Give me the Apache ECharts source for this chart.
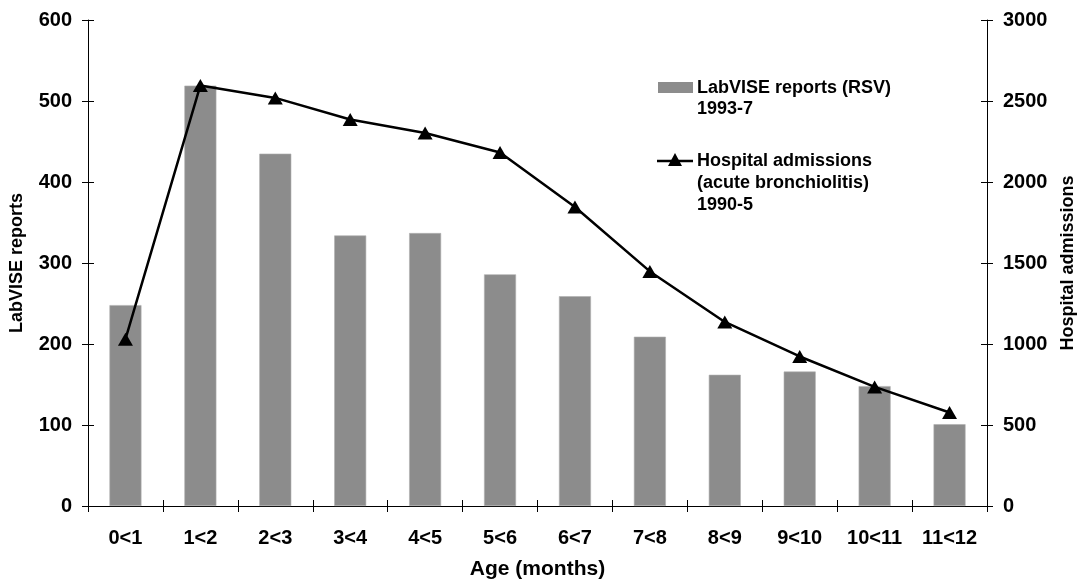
<!DOCTYPE html>
<html><head><meta charset="utf-8">
<script src="https://cdn.jsdelivr.net/npm/echarts@6/dist/echarts.min.js"></script>
<style>html,body{margin:0;padding:0;background:#fff}#c{width:1085px;height:586px}</style>
</head><body><div id="c"></div>
<script>
var categories = ['0<1','1<2','2<3','3<4','4<5','5<6','6<7','7<8','8<9','9<10','10<11','11<12'];
var labviseReports = [248, 519, 435, 334, 337, 286, 259, 209, 162, 166, 148, 101];
var hospitalAdmissions = [1030, 2596, 2519, 2386, 2302, 2182, 1846, 1448, 1136, 923, 735, 577];
var leftTicks = {min: 0, max: 600, interval: 100};
var rightTicks = {min: 0, max: 3000, interval: 500};

var F = 'Liberation Sans, Arial, sans-serif';
var chart = echarts.init(document.getElementById('c'), null, {renderer: 'canvas'});
var tickLabel = {fontFamily: F, fontWeight: 'bold', fontSize: 20, color: '#000'};
function yAx(pos, t, extra) {
  return Object.assign({
    type: 'value', position: pos, min: t.min, max: t.max, interval: t.interval,
    splitLine: {show: false},
    axisLine: {show: true, lineStyle: {color: '#000', width: 1}},
    axisTick: {show: true, length: 6, lineStyle: {color: '#000'}},
    axisLabel: Object.assign({margin: 16, formatter: function (v) { return String(v); }}, tickLabel)
  }, extra || {});
}
function yInner(pos, t) {
  return {
    type: 'value', position: pos, min: t.min, max: t.max, interval: t.interval,
    splitLine: {show: false}, axisLine: {show: false},
    axisTick: {show: true, inside: true, length: 6, lineStyle: {color: '#000'}},
    axisLabel: {show: false}
  };
}
var nameStyle = {fontFamily: F, fontWeight: 'bold', fontSize: 18, color: '#000'};
chart.setOption({
  animation: false,
  grid: {left: 88, right: 94, top: 20, bottom: 80},
  xAxis: [{
    type: 'category', data: categories, boundaryGap: true,
    axisLine: {lineStyle: {color: '#000', width: 1}},
    axisTick: {show: true, length: 6, alignWithLabel: false, lineStyle: {color: '#000'}},
    axisLabel: Object.assign({margin: 22, interval: 0}, tickLabel),
    name: 'Age (months)', nameLocation: 'middle', nameGap: 53,
    nameTextStyle: {fontFamily: F, fontWeight: 'bold', fontSize: 21, color: '#000'}
  }, {
    type: 'category', data: categories, position: 'bottom', boundaryGap: true,
    axisLine: {show: false},
    axisTick: {show: true, inside: true, length: 6, lineStyle: {color: '#000'}},
    axisLabel: {show: false}
  }],
  yAxis: [
    yAx('left', leftTicks, {name: 'LabVISE reports', nameLocation: 'middle', nameGap: 62, nameRotate: 90,
      nameTextStyle: nameStyle}),
    yAx('right', rightTicks, {name: 'Hospital admissions', nameLocation: 'middle', nameGap: 72, nameRotate: 90,
      nameTextStyle: nameStyle}),
    yInner('left', leftTicks),
    yInner('right', rightTicks)
  ],
  series: [{
    name: 'LabVISE reports (RSV) 1993-7', type: 'bar', xAxisIndex: 0, yAxisIndex: 0,
    data: labviseReports, barWidth: 32,
    itemStyle: {color: '#8c8c8c', borderColor: '#b0b0b0', borderWidth: 0.6}
  }, {
    name: 'Hospital admissions (acute bronchiolitis) 1990-5', type: 'line', xAxisIndex: 0, yAxisIndex: 1,
    data: hospitalAdmissions, symbol: 'triangle', symbolSize: [15, 13], z: 5,
    lineStyle: {color: '#000', width: 2.5},
    itemStyle: {color: '#000'}
  }],
  graphic: [
    {type: 'rect', shape: {x: 658, y: 82, width: 35, height: 11}, style: {fill: '#8c8c8c'}},
    {type: 'text', left: 697, top: 77, style: {text: 'LabVISE reports (RSV)\n1993-7', font: 'bold 18px ' + F, fill: '#000', lineHeight: 21.5}},
    {type: 'line', shape: {x1: 657, y1: 161, x2: 693, y2: 161}, style: {stroke: '#000', lineWidth: 2.5}},
    {type: 'polygon', shape: {points: [[675, 153], [668, 166], [682, 166]]}, style: {fill: '#000'}},
    {type: 'text', left: 697, top: 150, style: {text: 'Hospital admissions\n(acute bronchiolitis)\n1990-5', font: 'bold 18px ' + F, fill: '#000', lineHeight: 22}}
  ]
});
</script></body></html>
